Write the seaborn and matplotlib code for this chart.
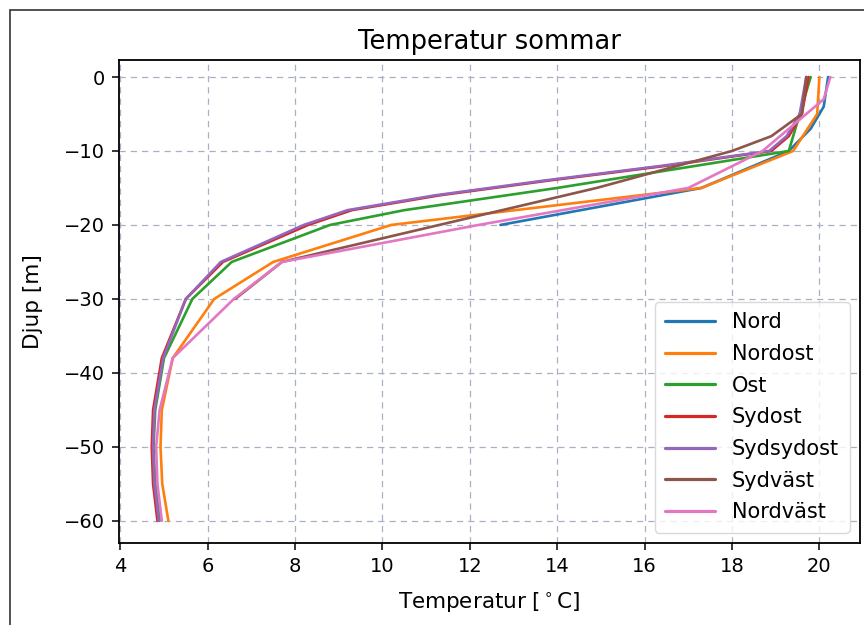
import numpy as np
import pandas as pd
import seaborn as sns
import matplotlib
matplotlib.use("Agg")
import matplotlib.pyplot as plt
from matplotlib.patches import Rectangle

# ---- data ----
stations = ["Nord", "Nordost", "Ost", "Sydost", "Sydsydost", "Sydväst", "Nordväst"]

nord_depth = [0, -4, -7, -10, -15, -20]
nord_temp = [20.2, 20.1, 19.8, 19.3, 17.3, 12.7]

nordost_depth = [0, -5, -10, -15, -20, -25, -30, -38, -45, -50, -55, -60]
nordost_temp = [20.0, 19.95, 19.4, 17.3, 10.2, 7.5, 6.15, 5.2, 4.95, 4.92, 4.96, 5.1]

ost_depth = [0, -5, -10, -15, -18, -20, -25, -30, -38, -45, -50, -55, -60]
ost_temp = [19.8, 19.55, 19.3, 14.0, 10.5, 8.8, 6.55, 5.65, 5.0, 4.8, 4.76, 4.8, 4.9]

sydost_depth = [0, -5, -8, -10, -12, -14, -16, -18, -20, -25, -30, -38, -45, -50, -55, -60]
sydost_temp = [19.75, 19.6, 19.3, 18.9, 16.5, 13.8, 11.3, 9.3, 8.3, 6.35, 5.5, 4.95, 4.75, 4.72, 4.75, 4.85]

sydsydost_depth = [0, -5, -8, -10, -12, -14, -16, -18, -20, -25, -30, -38, -45, -50, -55, -60]
sydsydost_temp = [19.7, 19.55, 19.25, 18.85, 16.4, 13.7, 11.2, 9.2, 8.2, 6.3, 5.5, 4.98, 4.78, 4.75, 4.78, 4.88]

sydvast_depth = [0, -5, -8, -10, -15, -20, -25, -30]
sydvast_temp = [19.7, 19.6, 18.9, 18.0, 14.9, 11.3, 7.7, 6.63]

nordvast_depth = [0, -3, -10, -15, -20, -25, -30, -38, -45, -50, -55, -60]
nordvast_temp = [20.25, 20.1, 18.7, 17.0, 12.2, 7.7, 6.6, 5.2, 4.9, 4.82, 4.85, 4.95]

depths = [nord_depth, nordost_depth, ost_depth, sydost_depth, sydsydost_depth, sydvast_depth, nordvast_depth]
temps = [nord_temp, nordost_temp, ost_temp, sydost_temp, sydsydost_temp, sydvast_temp, nordvast_temp]

frames = []
for name, d, t in zip(stations, depths, temps):
    frames.append(pd.DataFrame({"Station": name, "Djup": d, "Temp": t}))
df = pd.concat(frames, ignore_index=True)

# ---- style ----
sns.set_style("white")
plt.rcParams["font.family"] = ["DejaVu Sans"]
plt.rcParams["text.color"] = "black"
plt.rcParams["axes.labelcolor"] = "black"
plt.rcParams["xtick.color"] = "black"
plt.rcParams["ytick.color"] = "black"

fig = plt.figure(figsize=(8.64, 6.25), dpi=100)
ax = fig.add_axes([119 / 864, 1 - 543 / 625, (860 - 119) / 864, (543 - 60) / 625])

palette = sns.color_palette("tab10", 7)
sns.lineplot(data=df, x="Temp", y="Djup", hue="Station", hue_order=stations,
             palette=palette, estimator=None, sort=False, orient="y",
             linewidth=1.9, ax=ax)

ax.set_xlim(3.97, 20.93)
ax.set_ylim(-63.0, 2.3)
ax.set_xticks(np.arange(4, 21, 2))
ax.set_yticks(np.arange(-60, 1, 10))
ax.grid(True, linestyle=(0, (5, 4)), color="#aab0c4", linewidth=0.9)
ax.set_axisbelow(True)

for s in ax.spines.values():
    s.set_color("black")
    s.set_linewidth(1.3)
ax.tick_params(axis="both", which="major", labelsize=14, length=5, width=1.1,
               color="black", labelcolor="black", direction="out",
               bottom=True, left=True, pad=5)

ax.set_xlabel("Temperatur [$^\\circ$C]", fontsize=15.5, labelpad=11, color="black")
ax.set_ylabel("Djup [m]", fontsize=15.5, labelpad=15, color="black")
ax.set_title("Temperatur sommar", fontsize=18.5, pad=8, color="black")

leg = ax.legend(loc="lower right", fontsize=15, frameon=True, handlelength=2.4,
                handletextpad=0.8, borderaxespad=0.5, labelspacing=0.56,
                borderpad=0.5)
leg.get_frame().set_edgecolor("#d0d0d0")
for txt in leg.get_texts():
    txt.set_color("black")
for line in leg.get_lines():
    line.set_linewidth(2.3)

# scanned-page border
fig.patches.append(Rectangle((10 / 864, -0.1), 1.2, 1 - 10 / 625 + 0.1,
                             transform=fig.transFigure, fill=False,
                             edgecolor="#333333", linewidth=1.2))

fig.savefig("out.png", dpi=100)
